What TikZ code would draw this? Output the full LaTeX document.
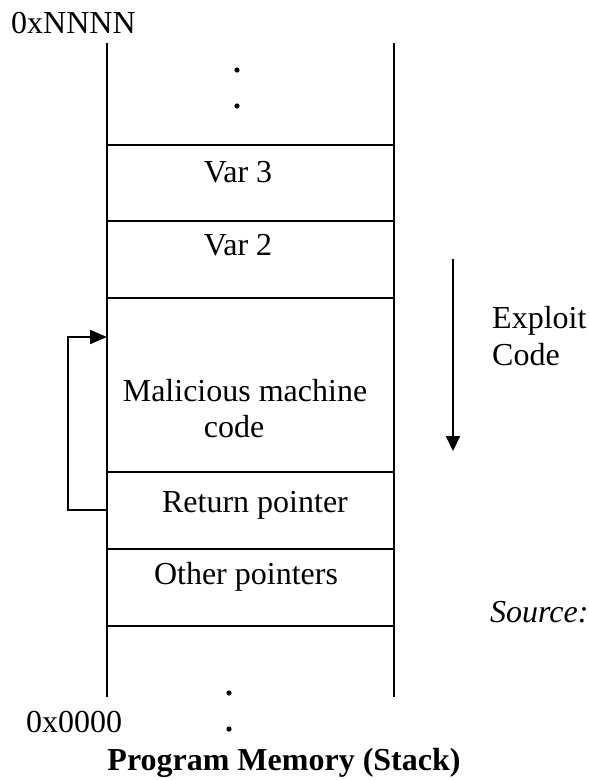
\documentclass[tikz,border=0pt]{standalone}
\usepackage{fontspec}
\setmainfont{Liberation Serif}
\usetikzlibrary{arrows.meta}
\begin{document}
\begin{tikzpicture}[x=1pt,y=-1pt,
  wall/.style={line width=2pt},
  lbl/.style={inner sep=0pt,anchor=base,font=\fontsize{32}{38}\selectfont},
  lbll/.style={lbl,anchor=base west},
  dotmark/.style={fill=black,draw=none},
  tip/.style={-{Triangle[length=17pt,width=14pt]}}]
\useasboundingbox (0,0) rectangle (589,780);
% walls of the stack
\coordinate (lt) at (107,43);  \coordinate (lb) at (107,697);
\coordinate (rt) at (394,43);  \coordinate (rb) at (394,697);
\draw[wall] (lt) -- (lb);
\draw[wall] (rt) -- (rb);
% cell separators
\foreach \y/\n in {145/a,221/b,298/c,472/d,549/e,626/f}{
  \coordinate (\n l) at (107,\y); \coordinate (\n r) at (394,\y);
  \draw[wall] (\n l) -- (\n r);
}
% dots
\fill[dotmark] (237,70) circle (2.6);
\fill[dotmark] (237,106) circle (2.6);
\fill[dotmark] (229,693) circle (2.6);
\fill[dotmark] (229,729) circle (2.6);
% labels
\node[lbll] (top) at (11,33) {0xNNNN};
\node[lbll] (bot) at (26,732) {0x0000};
\node[lbl] (v3) at (238,182) {Var 3};
\node[lbl] (v2) at (238,255) {Var 2};
\node[lbl] (mal) at (245,401) {Malicious machine};
\node[lbl] (code) at (234,437) {code};
\node[lbl] (ret) at (255,512) {Return pointer};
\node[lbl] (oth) at (246,584) {Other pointers};
\node[lbll] (ex) at (492,328) {Exploit};
\node[lbll] (exc) at (492,365) {Code};
\node[lbll] (src) at (490,622) {\itshape Source:};
\node[lbl] (cap) at (284,770) {\bfseries Program Memory (Stack)};
% return arrow
\coordinate (r0) at (107,510);
\coordinate (r1) at (68,510);
\coordinate (r2) at (68,337);
\coordinate (r3) at (107,337);
\draw[wall,tip] (r0) -- (r1) -- (r2) -- (r3);
% exploit direction arrow
\coordinate (e0) at (453,259);
\coordinate (e1) at (453,451);
\draw[wall,-{Triangle[length=15pt,width=14pt]}] (e0) -- (e1);
\end{tikzpicture}
\end{document}
